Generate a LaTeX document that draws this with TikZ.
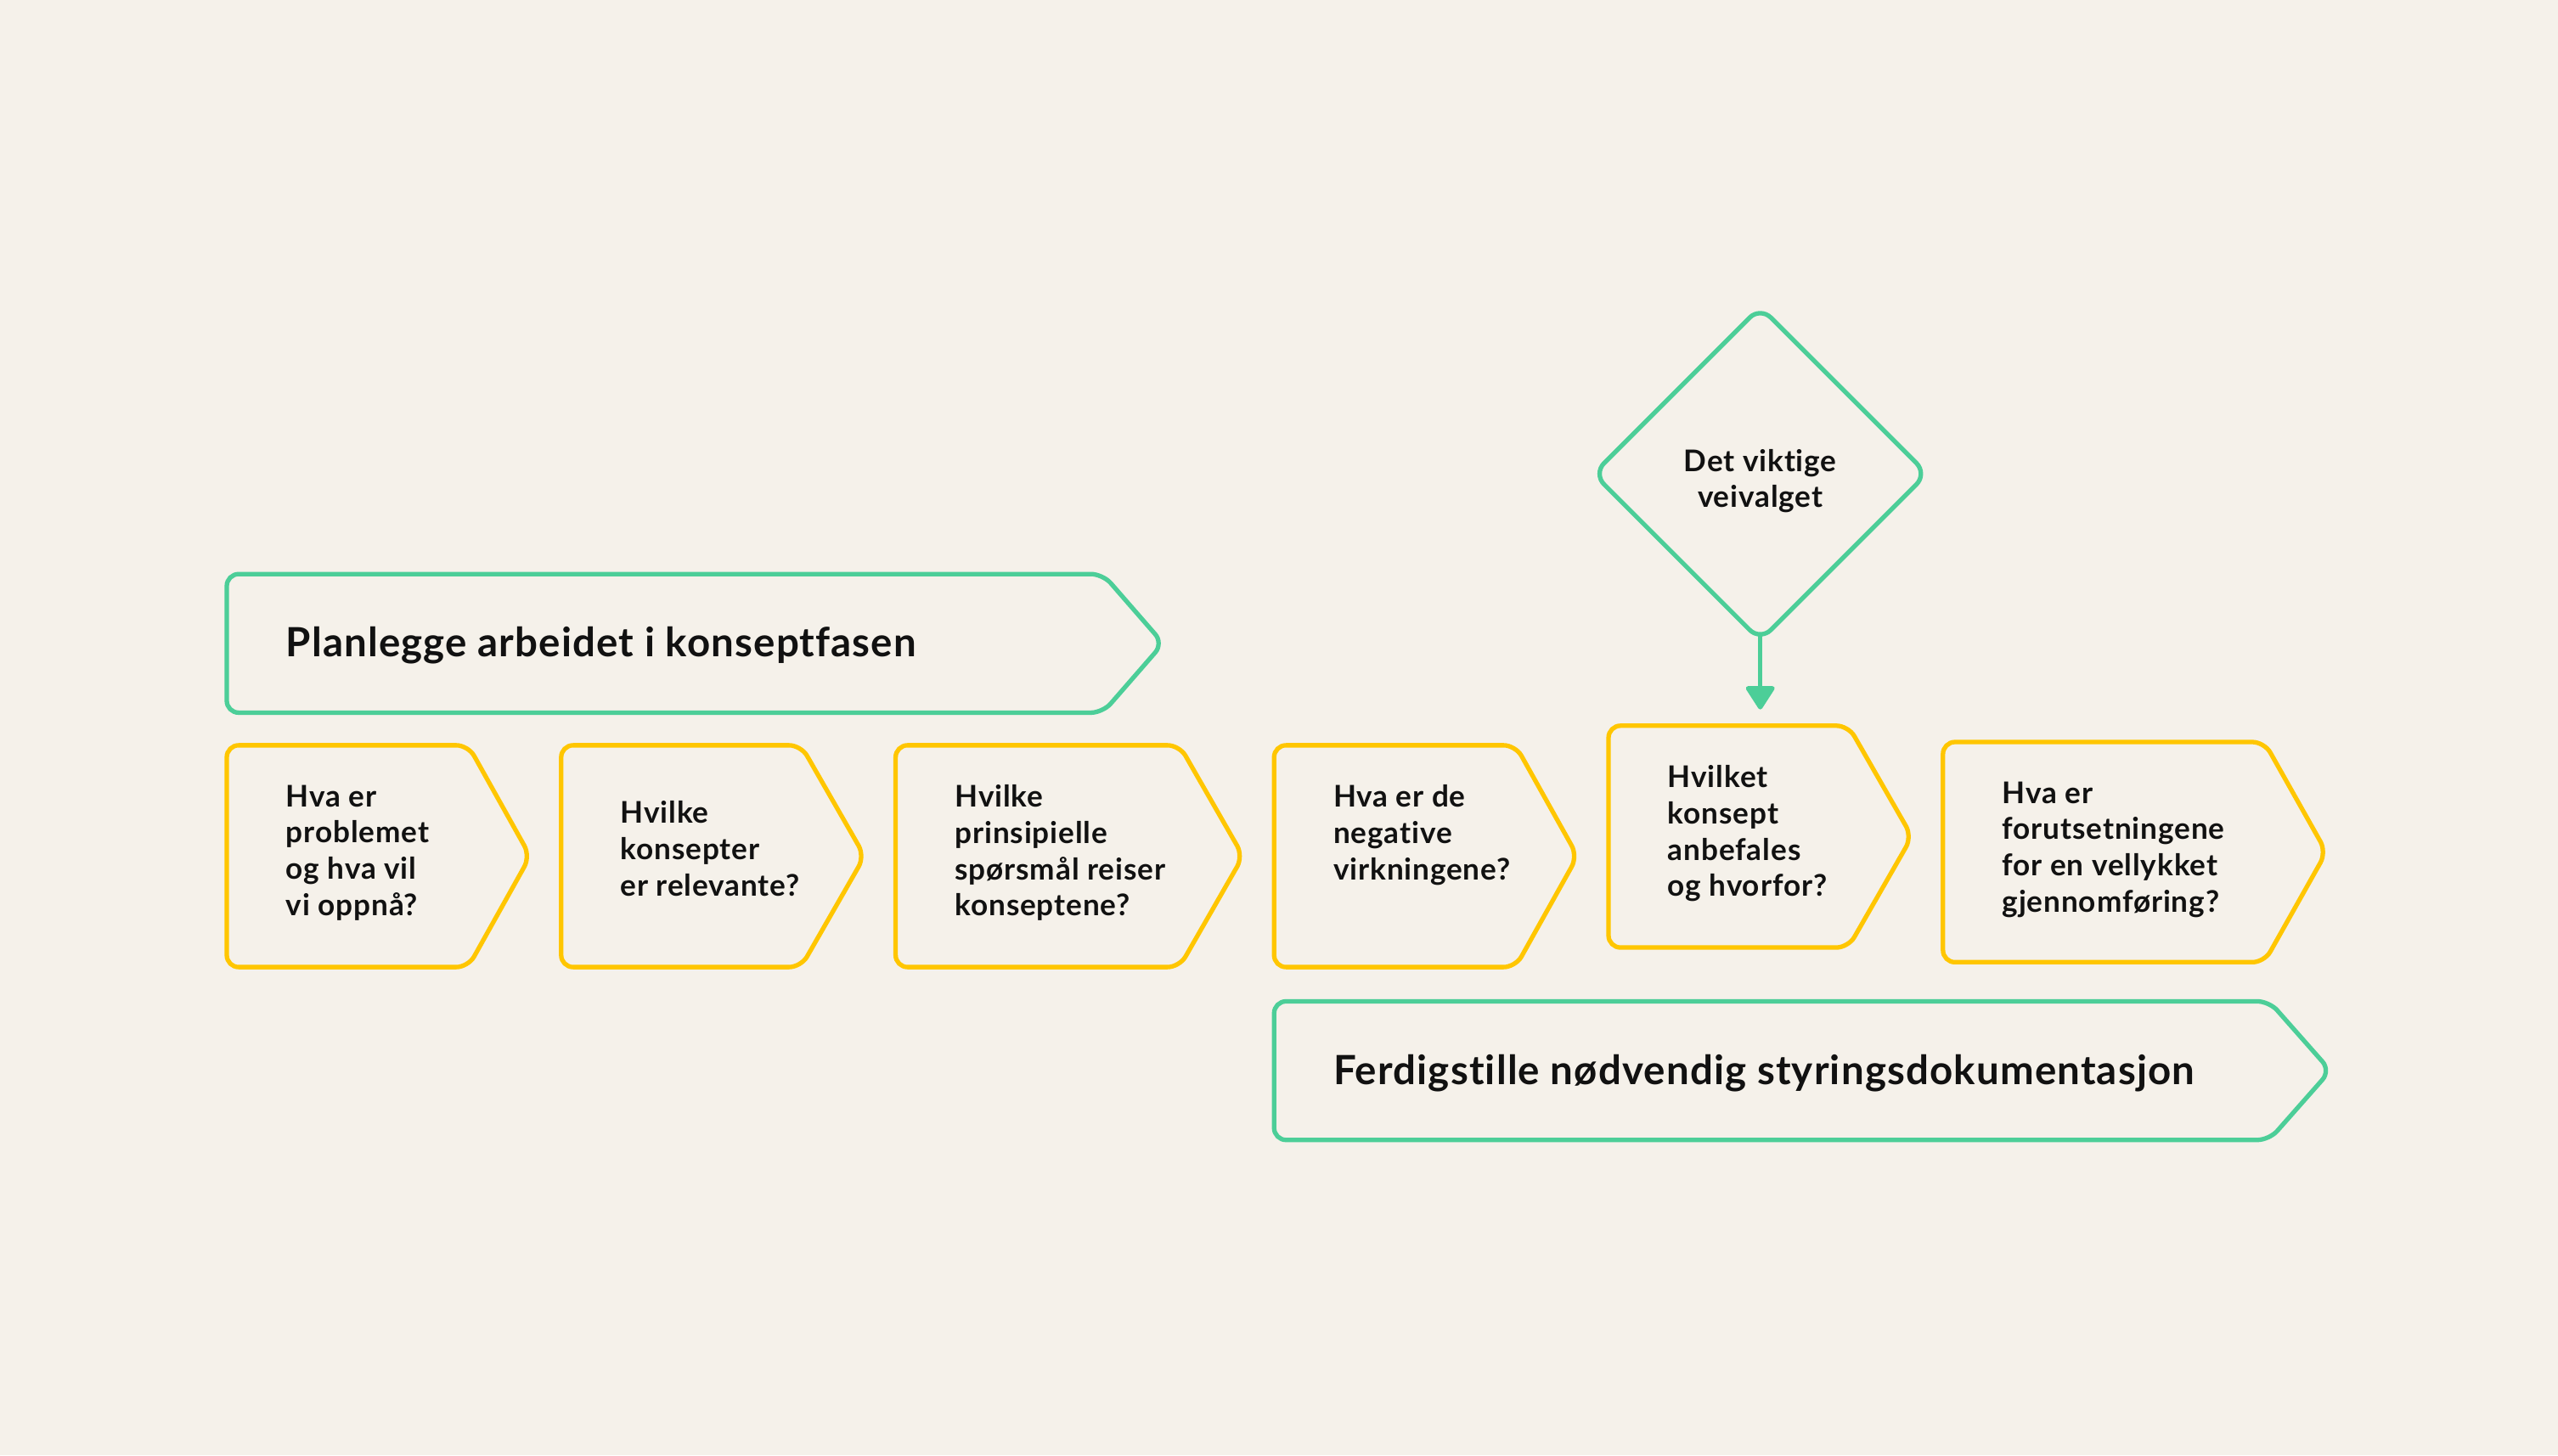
\documentclass[tikz,border=0pt]{standalone}
\usepackage{fontspec}
\setmainfont{Lato}[Ligatures=NoCommon]
\usetikzlibrary{arrows.meta,shapes.geometric}
\definecolor{bakgrunn}{HTML}{F5F1EA}
\definecolor{gronn}{HTML}{4CCE98}
\definecolor{gul}{HTML}{FFC600}
\definecolor{skrift}{HTML}{111111}
\tikzset{
  fase/.style={draw=gronn, line width=1.5pt, rounded corners=4pt},
  sporsmal/.style={draw=gul, line width=1.5pt, rounded corners=4pt},
  tekst/.style={anchor=north west, inner sep=0pt, align=left, text=skrift,
    font=\bfseries\fontsize{10}{12.15}\selectfont\addfontfeature{LetterSpace=2.5}},
  fasetekst/.style={anchor=base west, inner sep=0pt, text=skrift,
    font=\bfseries\fontsize{13.5}{16}\selectfont\addfontfeature{LetterSpace=2.4}},
  valg/.style={diamond, draw=gronn, line width=1.5pt, rounded corners=5pt,
    minimum width=3.95cm, minimum height=3.95cm, inner sep=0pt},
  pil/.style={draw=gronn, line width=1.5pt,
    -{Triangle[width=10.5pt, length=8.5pt, round]}, shorten <=-2.5pt}
}
\begin{document}
\begin{tikzpicture}[x=0.19209mm, y=-0.19209mm]
  \fill[bakgrunn] (0,0) rectangle (1568,892.3);
  \useasboundingbox (0,0) rectangle (1568,892.3);
  % faser
  \draw[fase] (139,352) -- (676,352) -- (713,394.5) -- (676,437) -- (139,437) -- cycle;
  \node[fasetekst] (planlegge) at (175,402.6) {Planlegge arbeidet i konseptfasen};
  \draw[fase] (781,614) -- (1391,614) -- (1428.5,656.5) -- (1391,699) -- (781,699) -- cycle;
  \node[fasetekst] (ferdigstille) at (817,665) {Ferdigstille nødvendig styringsdokumentasjon};
  % spørsmål
  \foreach \i/\xa/\xb/\xc/\ya/\yb/\yt/\txt in {
    1/139/287/325/457/593/481/{Hva er\\problemet\\og hva vil\\vi oppnå?},
    2/344/491/530/457/593/491/{Hvilke\\konsepter\\er relevante?},
    3/549/723/762/457/593/481/{Hvilke\\prinsipielle\\spørsmål reiser\\konseptene?},
    4/781/929/967/457/593/481/{Hva er de\\negative\\virkningene?},
    5/986/1133/1172/445/581/469/{Hvilket\\konsept\\anbefales\\og hvorfor?},
    6/1191/1388/1426/455/590/479/{Hva er\\forutsetningene\\for en vellykket\\gjennomføring?}} {
    \draw[sporsmal] (\xa,\ya) -- (\xb,\ya) -- (\xc,{(\ya+\yb)/2}) -- (\xb,\yb) -- (\xa,\yb) -- cycle;
    \node[tekst] (q\i) at (\xa+36,\yt) {\txt};
  }
  % veivalg
  \node[valg] (veivalg) at (1079,290.5) {};
  \node[tekst, anchor=center, align=center] (veivalgtekst) at (1079,295) {Det viktige\\veivalget};
  \coordinate (pilende) at (1079,435);
  \draw[pil] (veivalg.south) -- (pilende);
\end{tikzpicture}
\end{document}
